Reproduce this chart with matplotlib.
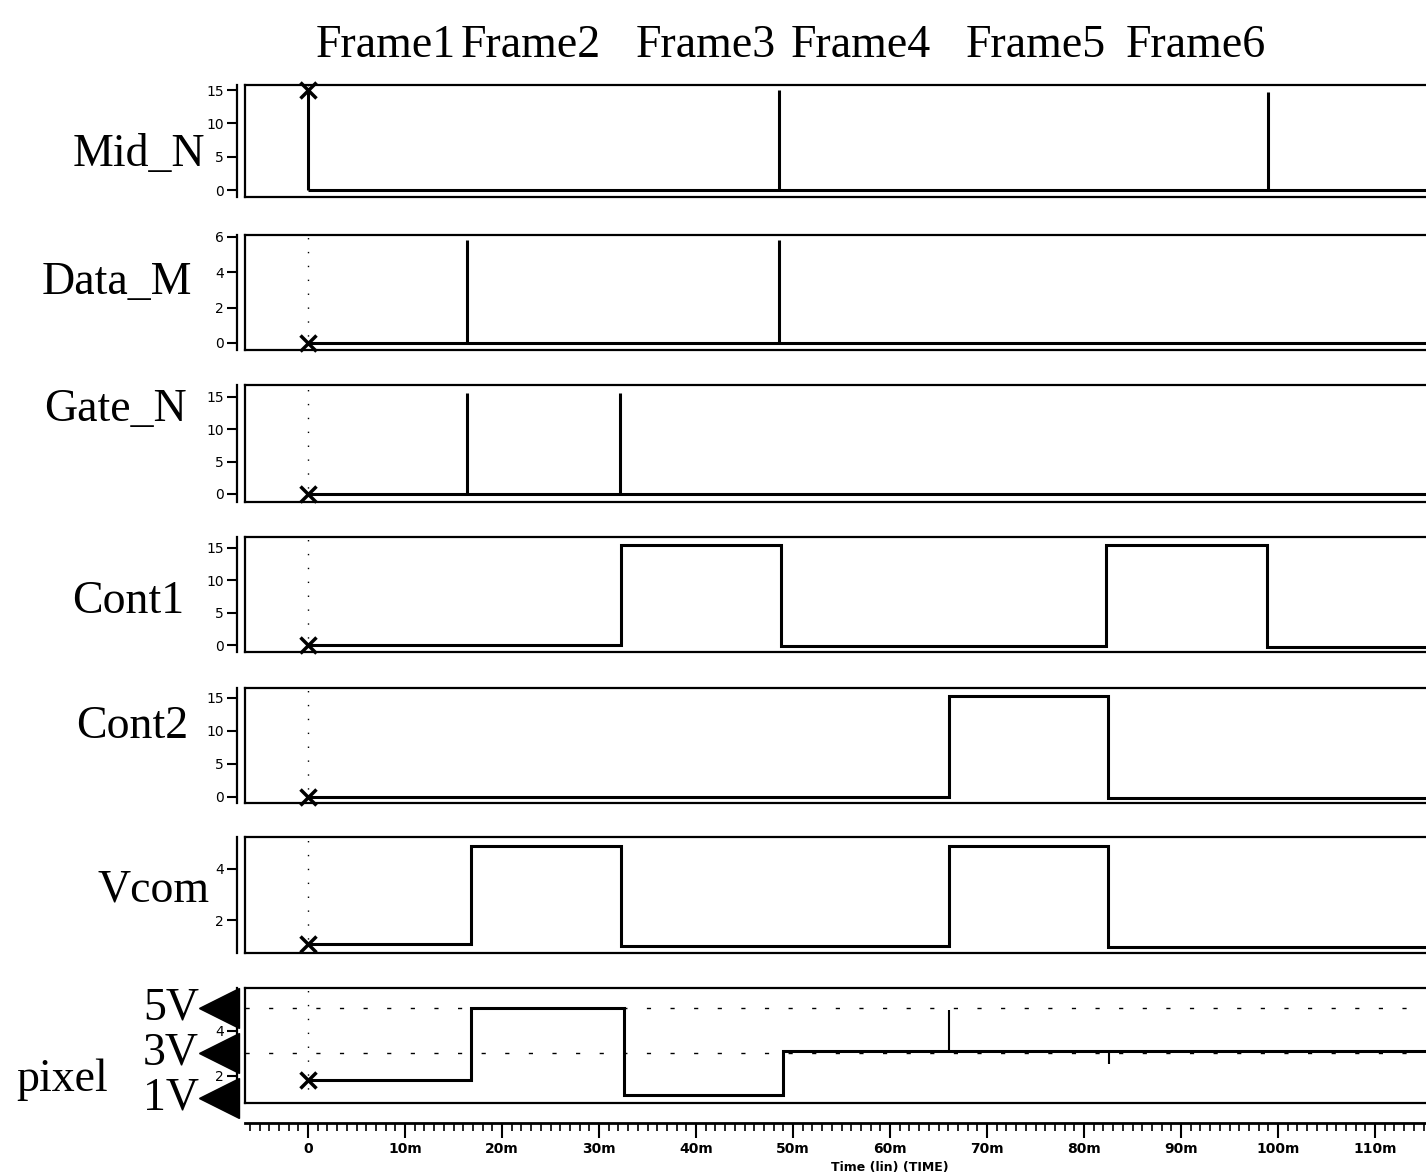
import numpy as np
import matplotlib
matplotlib.use("Agg")
import matplotlib.pyplot as plt
from matplotlib import transforms

# ---- data (time in ms) ----
frame_names = ["Frame1", "Frame2", "Frame3", "Frame4", "Frame5", "Frame6"]
frame_centers = [8.0, 23.0, 41.0, 57.0, 75.0, 91.5]

t_end = 117.0

mid_pulse_t = [0.0, 48.6, 99.0]
mid_pulse_v = [15.0, 15.0, 14.7]

data_pulse_t = [16.4, 48.6]
data_pulse_v = [5.8, 5.8]

gate_pulse_t = [16.4, 32.2]
gate_pulse_v = [15.6, 15.6]

cont1_edges = [0.0, 32.3, 48.8, 82.3, 98.9, t_end]
cont1_levels = [0.0, 15.5, -0.2, 15.5, -0.3]

cont2_edges = [0.0, 66.1, 82.5, t_end]
cont2_levels = [0.0, 15.3, -0.2]

vcom_edges = [0.0, 16.8, 32.3, 66.1, 82.5, t_end]
vcom_levels = [1.05, 4.9, 1.0, 4.9, 0.95]

pixel_edges = [0.0, 16.8, 32.6, 49.0, t_end]
pixel_levels = [1.8, 5.0, 1.15, 3.1]
pixel_spike_t = [66.1, 82.6]
pixel_spike_v = [4.9, 2.5]

pixel_marks = [5, 3, 1]
pixel_mark_labels = ["5V", "3V", "1V"]

xticks_major = np.arange(0, 111, 10)
xtick_labels = ["0"] + ["%dm" % v for v in xticks_major[1:]]

# ---- layout helpers (pixels of a 1426x1175 figure) ----
W, H = 1426.0, 1175.0
fig = plt.figure(figsize=(W / 100, H / 100), dpi=100)
serif = "Liberation Serif"

def add_panel(top, bottom, left=245, right=1442):
    return fig.add_axes([left / W, 1 - bottom / H, (right - left) / W, (bottom - top) / H])

# name, top, bottom, ylim, yticks, label x(right edge), label y
panels = [
    ("Mid_N", 85, 197, (-1.05, 15.75), [0, 5, 10, 15], 205, 155),
    ("Data_M", 235, 350, (-0.4, 6.11), [0, 2, 4, 6], 192, 283),
    ("Gate_N", 385, 502, (-1.24, 16.85), [0, 5, 10, 15], 187, 410),
    ("Cont1", 537, 652, (-1.08, 16.7), [0, 5, 10, 15], 184, 602),
    ("Cont2", 688, 803, (-0.91, 16.5), [0, 5, 10, 15], 188, 727),
    ("Vcom", 837, 953, (0.71, 5.25), [2, 4], 210, 890),
    ("pixel", 988, 1103, (0.78, 5.89), [2, 4], 108, 1080),
]

xlim = (-6.5, (1442 - 308) / 9.7)
axes = []
for name, top, bot, ylim, yt, lx, ly in panels:
    ax = add_panel(top, bot)
    ax.set_xlim(*xlim)
    ax.set_ylim(*ylim)
    ax.set_xticks([])
    ax.set_yticks(yt)
    ax.set_yticklabels([str(v) for v in yt], fontsize=10, fontweight="bold")
    ax.tick_params(axis="y", direction="out", length=7, width=1.5, pad=2)
    for s in ax.spines.values():
        s.set_linewidth(1.6)
    ax.spines["left"].set_position(("outward", 6))
    ax.spines["right"].set_visible(False)
    # box edge next to the tick axis
    ax.plot([0, 0], [0, 1], transform=ax.transAxes, color="k", lw=1.6, clip_on=False)
    # sparse dotted cursor line at t=0
    ax.axvline(0, color="k", lw=1.0, ls=(0, (1, 9)), zorder=1)
    fig.text(lx / W, 1 - ly / H, name, ha="right", va="center",
             family=serif, fontsize=33)
    axes.append(ax)

ax_mid, ax_data, ax_gate, ax_c1, ax_c2, ax_vcom, ax_pix = axes
lw = 2.2

# pulse signals
for ax, pt, pv in [(ax_mid, mid_pulse_t, mid_pulse_v),
                   (ax_data, data_pulse_t, data_pulse_v),
                   (ax_gate, gate_pulse_t, gate_pulse_v)]:
    ax.hlines(0, 0, t_end, color="k", lw=lw)
    ax.vlines(pt, 0, pv, color="k", lw=lw)

# step signals
for ax, e, lv in [(ax_c1, cont1_edges, cont1_levels),
                  (ax_c2, cont2_edges, cont2_levels),
                  (ax_vcom, vcom_edges, vcom_levels),
                  (ax_pix, pixel_edges, pixel_levels)]:
    ax.stairs(lv, e, baseline=None, color="k", lw=lw)

ax_pix.vlines(pixel_spike_t, pixel_levels[-1], pixel_spike_v, color="k", lw=1.5)
for v in pixel_marks[:2]:
    ax_pix.axhline(v, color="k", lw=1.0, ls=(0, (3, 14)), zorder=1)

# cursor markers at t=0
mk = dict(marker="x", color="k", ms=11, mew=2.5, ls="none", clip_on=False)
ax_mid.plot([0], [mid_pulse_v[0]], **mk)
ax_data.plot([0], [0], **mk)
ax_gate.plot([0], [0], **mk)
ax_c1.plot([0], [cont1_levels[0]], **mk)
ax_c2.plot([0], [cont2_levels[0]], **mk)
ax_vcom.plot([0], [vcom_levels[0]], **mk)
ax_pix.plot([0], [pixel_levels[0]], **mk)

# voltage arrows on the pixel panel
tr = transforms.blended_transform_factory(fig.transFigure, ax_pix.transData)
for v, lab in zip(pixel_marks, pixel_mark_labels):
    ax_pix.plot([219 / W], [v], marker="<", ms=29, color="k", transform=tr,
                clip_on=False, zorder=10)
    ax_pix.text(199 / W, v, lab, transform=tr, ha="right", va="center",
                family=serif, fontsize=33)

# frame titles
trf = transforms.blended_transform_factory(ax_mid.transData, fig.transFigure)
for x, name in zip(frame_centers, frame_names):
    ax_mid.text(x, 1 - 57 / H, name, transform=trf, ha="center", va="baseline",
                family=serif, fontsize=33)

# time axis
ax_t = fig.add_axes([245 / W, 1 - 1123 / H, (1442 - 245) / W, 0.0001])
ax_t.set_xlim(*xlim)
ax_t.set_yticks([])
for s in ["top", "left", "right"]:
    ax_t.spines[s].set_visible(False)
ax_t.spines["bottom"].set_linewidth(2.0)
ax_t.set_xticks(xticks_major)
ax_t.set_xticklabels(xtick_labels, fontsize=10, fontweight="bold")
ax_t.set_xticks(np.arange(-6, 117, 1), minor=True)
ax_t.tick_params(axis="x", which="major", direction="out", length=11, width=1.5, pad=3)
ax_t.tick_params(axis="x", which="minor", direction="out", length=6, width=1.2)
fig.text(890 / W, 1 - 1161 / H, "Time (lin) (TIME)", ha="center", va="top",
         fontsize=9, fontweight="bold")

fig.savefig("out.png", dpi=100)
